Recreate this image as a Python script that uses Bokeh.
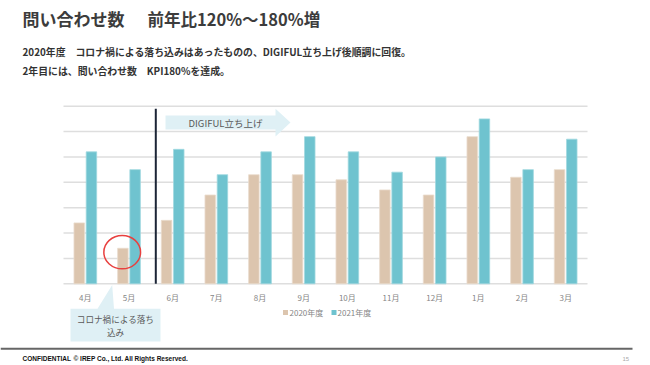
from bokeh.plotting import figure
from bokeh.models import Range1d, FactorRange
from bokeh.transform import dodge
from bokeh.core.properties import value
from bokeh.embed import file_html
from bokeh.resources import INLINE

# ---- data ----
months = ["4月", "5月", "6月", "7月", "8月", "9月", "10月", "11月", "12月", "1月", "2月", "3月"]
y2020 = [24, 14, 25, 35, 43, 43, 41, 37, 35, 58, 42, 45]
y2021 = [52, 45, 53, 43, 52, 58, 52, 44, 50, 65, 45, 57]
grid_levels = [0, 10, 20, 30, 40, 50, 60, 70]
series_names = ["2020年度", "2021年度"]

title_a = "問い合わせ数"
title_b = "前年比120%～180%増"
sub1 = "2020年度　コロナ禍による落ち込みはあったものの、DIGIFUL立ち上げ後順調に回復。"
sub2 = "2年目には、問い合わせ数　KPI180%を達成。"
arrow_text = "DIGIFUL立ち上げ"
callout_lines = ["コロナ禍による落ち", "込み"]

C2020 = "#dcc5ae"
C2021 = "#6fc3cf"
JP = value("Noto Sans CJK JP")

W, H = 650, 365
# plot frame (pixels, from top-left of canvas)
FL, FR, FT, FB = 63, 587, 105.7, 283.3
VMAX = 70
unit = (FR - FL) / len(months)
pad = FL / unit
ppu = (FB - FT) / VMAX


def sx(px):
    """canvas pixel x -> synthetic categorical coordinate"""
    if isinstance(px, (list, tuple)):
        return [sx(v) for v in px]
    return (px - FL) / unit


xr = FactorRange(factors=months, range_padding=pad, range_padding_units="absolute")
p = figure(width=W, height=H, x_range=xr, y_range=Range1d(H, 0),
           output_backend="svg", toolbar_location=None, min_border=0,
           x_axis_location=None, y_axis_location=None)
p.grid.visible = False
p.outline_line_color = None
p.background_fill_color = "white"
p.extra_y_ranges = {"val": Range1d(-(H - FB) / ppu, VMAX + FT / ppu)}

# grid lines
n = len(grid_levels)
p.segment(x0=[0] * n, x1=[len(months)] * n, y0=grid_levels, y1=grid_levels,
          y_range_name="val", line_color="#dedede", line_width=1.5)

# bars
src = dict(month=months, a=y2020, b=y2021)
p.vbar(x=dodge("month", -0.14, range=xr), top="a", width=0.24, bottom=0,
       source=src, y_range_name="val", fill_color=C2020, line_color="#eadccd", line_width=0.8)
p.vbar(x=dodge("month", 0.14, range=xr), top="b", width=0.24, bottom=0,
       source=src, y_range_name="val", fill_color=C2021, line_color="#9fd8df", line_width=0.8)

# month labels
p.text(x=months, y=[297] * len(months), text=months,
       text_font=JP, text_font_size="8px", text_color="#858585",
       text_align="center", text_baseline="middle")

# vertical divider
p.segment(x0=[sx(155.3)], x1=[sx(155.3)], y0=[108.3], y1=[FB], line_color="#1c2536", line_width=2)

# arrow
p.patch(x=sx([165, 275, 275, 290, 275, 275, 165]), y=[115, 115, 108.3, 122, 136, 129, 129],
        fill_color="#dff0f5", line_color=None)
p.text(x=[sx(225)], y=[122], text=[arrow_text], text_font=JP, text_font_size="9.5px",
       text_color="#595959", text_align="center", text_baseline="middle")

# red circle
p.ellipse(x=[sx(121.7)], y=[251.7], width=36.7, height=33.3, width_units="screen", height_units="screen",
          fill_color=None, line_color="#e8403f", line_width=1.5)

# callout
p.patch(x=sx([70, 97, 111.7, 113.5, 160, 160, 70]), y=[308.3, 308.3, 284.5, 308.3, 308.3, 341, 341],
        fill_color="#dff0f5", line_color=None)
p.text(x=sx([115, 115]), y=[318.5, 331], text=callout_lines, text_font=JP, text_font_size="8.6px",
       text_color="#595959", text_align="center", text_baseline="middle")

# legend
p.scatter(x=sx([285, 333.5]), y=[312, 312], marker="square", size=5, fill_color=[C2020, C2021], line_color=None)
p.text(x=sx([289, 337]), y=[312, 312], text=series_names, text_font=JP, text_font_size="8px",
       text_color="#858585", text_align="left", text_baseline="middle")

# titles
p.text(x=[sx(22)], y=[18], text=[title_a], text_font=JP, text_font_size="17px",
       text_font_style="bold", text_color="#3c3c3c", text_align="left", text_baseline="middle")
p.text(x=[sx(147)], y=[18], text=[title_b], text_font=JP, text_font_size="16.5px",
       text_font_style="bold", text_color="#3c3c3c", text_align="left", text_baseline="middle")
p.text(x=sx([22, 22]), y=[51, 70], text=[sub1, sub2], text_font=JP, text_font_size="9.9px",
       text_font_style="bold", text_color="#333333", text_align="left", text_baseline="middle")

# footer
p.segment(x0=[sx(0)], x1=[sx(632)], y0=[348.3], y1=[348.3], line_color="#666666", line_width=2)
p.text(x=sx([22, 73]), y=[358, 358], text=["CONFIDENTIAL", "© IREP Co., Ltd. All Rights Reserved."],
       text_font=value("Liberation Sans"), text_font_size="6.5px", text_font_style="bold",
       text_color="#111111", text_align="left", text_baseline="alphabetic")
p.text(x=[sx(622)], y=[358], text=["15"], text_font=value("Liberation Sans"), text_font_size="6px",
       text_color="#aaaaaa", text_align="left", text_baseline="alphabetic")

open("out.html", "w").write(file_html(p, INLINE))
